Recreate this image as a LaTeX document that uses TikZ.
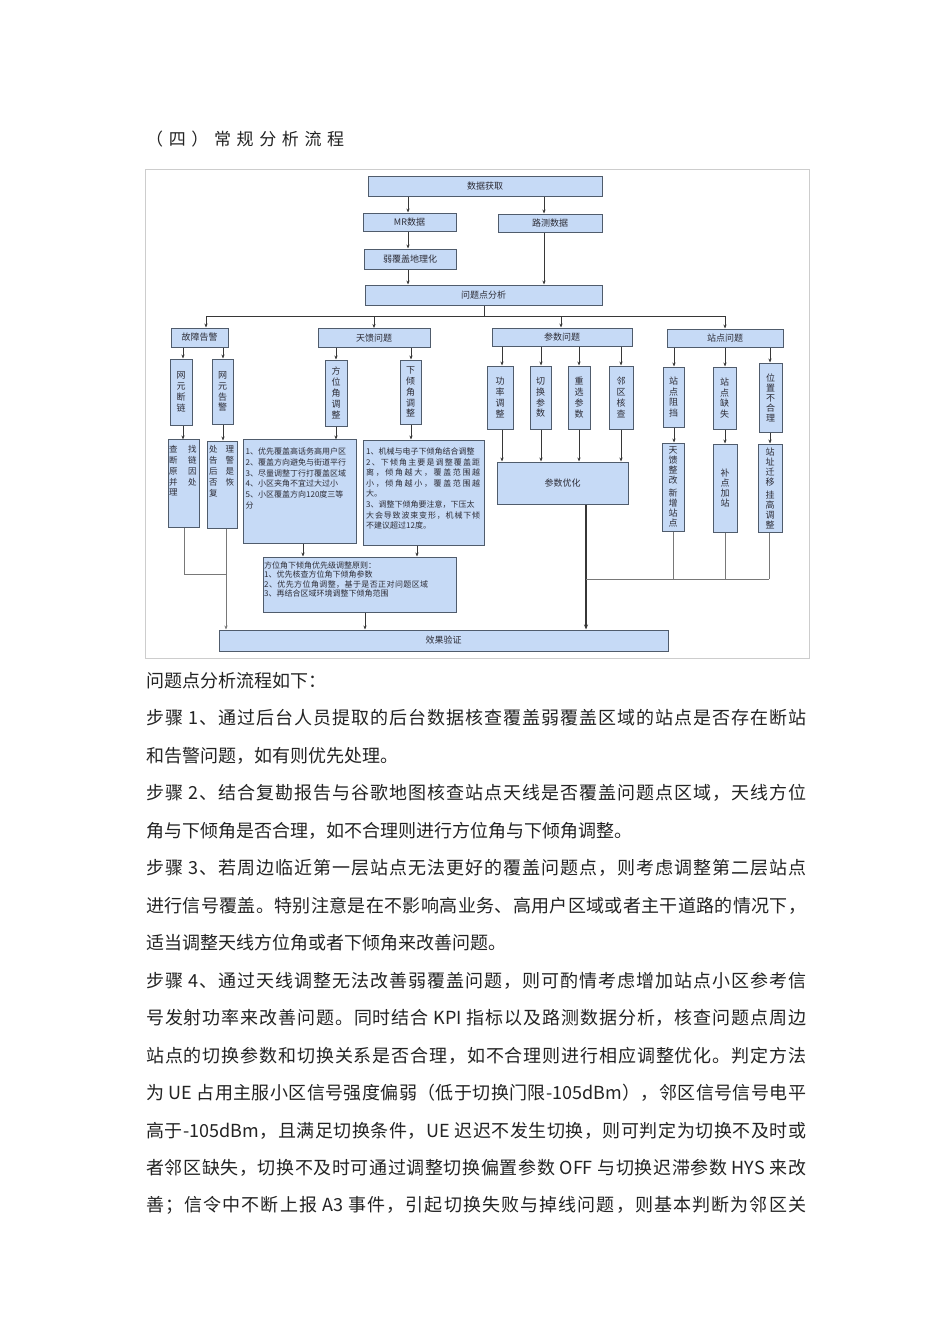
\documentclass[tikz,border=0pt]{standalone}
\usepackage{fontspec}
\setmainfont{Noto Sans CJK SC}
\usetikzlibrary{arrows.meta,shadows}
\definecolor{boxfill}{RGB}{198,218,246}
\definecolor{boxline}{RGB}{80,92,108}
\definecolor{conn}{RGB}{55,55,55}
\definecolor{conng}{RGB}{120,120,120}
\definecolor{framec}{RGB}{205,205,205}
\definecolor{txt}{RGB}{35,35,35}
\definecolor{boxtxt}{RGB}{45,45,55}
\def\jspread#1{\ifx\relax#1\else#1\hskip 0pt plus 1fil\relax\expandafter\jspread\fi}
\newcommand{\flin}[2]{\hbox to #1{\jspread#2\relax\unskip}}
\tikzset{
 bx/.style={draw=boxline, fill=boxfill, line width=1pt, inner sep=0pt, text=boxtxt,
   font=\fontsize{9}{10}\selectfont,
   drop shadow={shadow xshift=0.7pt, shadow yshift=-0.7pt, fill=black!45}},
 vt/.style={bx, align=center, font=\fontsize{9}{10.8}\selectfont},
 tx/.style={inner sep=0pt, anchor=north west, align=left, text=boxtxt, font=\fontsize{8}{10.7}\selectfont},
 arr/.style={draw=conn, line width=0.8pt, -{Stealth[length=4pt,width=3.2pt]}},
 arrg/.style={draw=conng, line width=0.8pt, -{Stealth[length=4pt,width=3.2pt]}},
 arrk/.style={draw=conn, line width=1.4pt, -{Stealth[length=5pt,width=4pt]}},
 ln/.style={draw=conn, line width=0.8pt},
 lng/.style={draw=conng, line width=0.8pt},
 body/.style={anchor=west, inner sep=0pt, text=txt, font=\fontsize{18}{18}\selectfont},
}
\begin{document}
\begin{tikzpicture}[x=1pt,y=-1pt]
\fill[white] (0,0) rectangle (950,1344);
\useasboundingbox (0,0) rectangle (950,1344);

% title
\node[anchor=west, inner sep=0pt, text=txt, font=\fontsize{17}{17}\selectfont] (title) at (146,139) {\flin{198pt}{（四）常规分析流程}};

% frame
\draw[framec, line width=1pt] (145,169) rectangle (809,658);

% top boxes
\node[bx, minimum width=234pt, minimum height=20pt] (sj) at (485,186) {数据获取};
\node[bx, minimum width=93pt, minimum height=18pt] (mr) at (409.5,222) {MR数据};
\node[bx, minimum width=104pt, minimum height=18pt] (lc) at (550,223) {路测数据};
\node[bx, minimum width=92pt, minimum height=20pt] (rf) at (410,259) {弱覆盖地理化};
\node[bx, minimum width=237pt, minimum height=20pt] (wt) at (483.5,295) {问题点分析};

% second level
\node[bx, minimum width=57pt, minimum height=19pt] (gz) at (199.5,337.5) {故障告警};
\node[bx, minimum width=112pt, minimum height=19pt] (tk) at (374,338) {天馈问题};
\node[bx, minimum width=140pt, minimum height=18pt] (cs) at (562,337) {参数问题};
\node[bx, minimum width=116pt, minimum height=18pt] (zd) at (725,338) {站点问题};

% fault branch
\node[vt, minimum width=22pt, minimum height=66pt] (wd) at (181,392) {网\\元\\断\\链};
\node[vt, minimum width=21pt, minimum height=65pt] (wg) at (222.5,391.5) {网\\元\\告\\警};
\node[bx, minimum width=31pt, minimum height=87.5pt] (cz) at (183.5,483.7) {};
\node[bx, minimum width=30pt, minimum height=87pt] (cl) at (222,484.5) {};
\node[tx, font=\fontsize{8.5}{10.8}\selectfont] (czt) at ([xshift=1.5pt,yshift=-6pt]cz.north west) {查\hspace{10.5pt}找\\断\hspace{10.5pt}链\\原\hspace{10.5pt}因\\并\hspace{10.5pt}处\\理};
\node[tx, font=\fontsize{8.5}{10.8}\selectfont] (clt) at ([xshift=2.3pt,yshift=-5pt]cl.north west) {处\hspace{8pt}理\\告\hspace{8pt}警\\后\hspace{8pt}是\\否\hspace{8pt}恢\\复};

% antenna branch
\node[vt, minimum width=22pt, minimum height=66pt] (fw) at (336,393) {方\\位\\角\\调\\整};
\node[vt, minimum width=21pt, minimum height=64pt] (xq) at (410.5,392) {下\\倾\\角\\调\\整};
\node[bx, minimum width=113pt, minimum height=103.5pt] (t1) at (299.5,491.7) {};
\node[bx, minimum width=121pt, minimum height=105pt] (t2) at (423.5,492.5) {};
\node[tx, font=\fontsize{8}{10.8}\selectfont] (t1x) at ([xshift=3pt,yshift=-8pt]t1.north west) {1、优先覆盖高话务高用户区\\2、覆盖方向避免与街道平行\\3、尽量调整丁行打覆盖区域\\4、小区夹角不宜过大过小\\5、小区覆盖方向120度三等\\分};
\node[tx, font=\fontsize{8}{10.6}\selectfont] (t2x) at ([xshift=3.5pt,yshift=-8pt]t2.north west) {1、机械与电子下倾角结合调整\\\flin{114pt}{2、下倾角主要是调整覆盖距}\\\flin{114pt}{离，倾角越大，覆盖范围越}\\\flin{114pt}{小，倾角越小，覆盖范围越}\\大。\\3、调整下倾角要注意，下压太\\\flin{114pt}{大会导致波束变形，机械下倾}\\不建议超过12度。};
\node[bx, minimum width=193pt, minimum height=55pt] (yx) at (359.5,584.5) {};
\node[tx, font=\fontsize{8}{9.5}\selectfont] (yxt) at ([xshift=1.5pt,yshift=-5pt]yx.north west) {方位角下倾角优先级调整原则：\\1、优先核查方位角下倾角参数\\\flin{164pt}{2、优先方位角调整，基于是否正对问题区域}\\3、再结合区域环境调整下倾角范围};

% parameter branch
\node[vt, minimum width=26pt, minimum height=63pt] (gl) at (500,397.5) {功\\率\\调\\整};
\node[vt, minimum width=21pt, minimum height=63pt] (qh) at (540.5,397.5) {切\\换\\参\\数};
\node[vt, minimum width=22pt, minimum height=63pt] (cx) at (579,397.5) {重\\选\\参\\数};
\node[vt, minimum width=24pt, minimum height=63pt] (lq) at (621,397.5) {邻\\区\\核\\查};
\node[bx, minimum width=131pt, minimum height=42pt] (yh) at (562.5,483) {参数优化};

% site branch
\node[vt, minimum width=21pt, minimum height=60pt] (zz) at (673.5,397) {站\\点\\阻\\挡};
\node[vt, minimum width=23pt, minimum height=62pt] (zq) at (724.5,398) {站\\点\\缺\\失};
\node[vt, minimum width=23pt, minimum height=69pt, font=\fontsize{9}{10}\selectfont] (wz) at (770.5,397.5) {位\\置\\不\\合\\理};
\node[vt, minimum width=22pt, minimum height=88pt, font=\fontsize{9}{10}\selectfont] (tz) at (673,487) {天\\馈\\整\\改\\[3pt]新\\增\\站\\点};
\node[vt, minimum width=24pt, minimum height=88pt, font=\fontsize{9}{10}\selectfont] (bd) at (725,488) {补\\点\\加\\站};
\node[vt, minimum width=24pt, minimum height=88pt, font=\fontsize{9}{10}\selectfont] (zy) at (770,488) {站\\址\\迁\\移\\[3pt]挂\\高\\调\\整};

% result
\node[bx, minimum width=449pt, minimum height=21pt] (xy) at (443.5,640.5) {效果验证};

% helper coordinates
\coordinate (xa) at (408,0);
\coordinate (xb) at (544,0);
\coordinate (xc) at (484,0);
\coordinate (h1) at (206,316);
\coordinate (h2) at (374,316);
\coordinate (h3) at (561,316);
\coordinate (h4) at (725,316);
\coordinate (xd) at (183,0);
\coordinate (xe) at (223,0);
\coordinate (j1) at (184,574);
\coordinate (j2) at (226,574);
\coordinate (xf) at (336,0);
\coordinate (xg) at (411,0);
\coordinate (xh) at (303,0);
\coordinate (xi) at (417,0);
\coordinate (xj) at (365,0);
\coordinate (p1) at (502,0);
\coordinate (p2) at (541,0);
\coordinate (p3) at (579,0);
\coordinate (p4) at (621,0);
\coordinate (k0) at (586,579);
\coordinate (s1) at (674,0);
\coordinate (s2) at (725,0);
\coordinate (s3) at (770,0);
\coordinate (k1) at (673,579);
\coordinate (k2) at (725,579);
\coordinate (k3) at (769,579);

% connectors
\draw[arr] (sj.south -| xa) -- (mr.north -| xa);
\draw[arr] (sj.south -| xb) -- (lc.north -| xb);
\draw[arr] (mr.south -| xa) -- (rf.north -| xa);
\draw[arr] (rf.south -| xa) -- (wt.north -| xa);
\draw[arr] (lc.south -| xb) -- (wt.north -| xb);
\draw[ln] (wt.south -| xc) -- (h1 -| xc);
\draw[ln] (h1) -- (h4);
\draw[arr] (h1) -- (gz.north -| h1);
\draw[arr] (h2) -- (tk.north -| h2);
\draw[arr] (h3) -- (cs.north -| h3);
\draw[arr] (h4) -- (zd.north -| h4);

\draw[arr] (gz.south -| xd) -- (wd.north -| xd);
\draw[arr] (gz.south -| xe) -- (wg.north -| xe);
\draw[arr] (wd.south -| xd) -- (cz.north -| xd);
\draw[arr] (wg.south -| xe) -- (cl.north -| xe);
\draw[lng] (cz.south -| j1) -- (j1) -- (j2);
\draw[arrg] (cl.south -| j2) -- (xy.north -| j2);

\draw[arr] (tk.south -| xf) -- (fw.north -| xf);
\draw[arr] (tk.south -| xg) -- (xq.north -| xg);
\draw[arr] (fw.south -| xf) -- (t1.north -| xf);
\draw[arr] (xq.south -| xg) -- (t2.north -| xg);
\draw[arr] (t1.south -| xh) -- (yx.north -| xh);
\draw[arr] (t2.south -| xi) -- (yx.north -| xi);
\draw[arr] (yx.south -| xj) -- (xy.north -| xj);

\foreach \n/\p in {gl/p1,qh/p2,cx/p3,lq/p4} {
  \draw[arr] (cs.south -| \p) -- (\n.north -| \p);
  \draw[arr] (\n.south -| \p) -- (yh.north -| \p);
}
\draw[arrk] (yh.south -| k0) -- (xy.north -| k0);

\draw[arr] (zd.south -| s1) -- (zz.north -| s1);
\draw[arr] (zd.south -| s2) -- (zq.north -| s2);
\draw[arr] (zd.south -| s3) -- (wz.north -| s3);
\draw[arr] (zz.south -| s1) -- (tz.north -| s1);
\draw[arr] (zq.south -| s2) -- (bd.north -| s2);
\draw[arr] (wz.south -| s3) -- (zy.north -| s3);
\draw[lng] (tz.south -| k1) -- (k1);
\draw[lng] (bd.south -| k2) -- (k2);
\draw[lng] (zy.south -| k3) -- (k3);
\draw[lng] (k0) -- (k3);

% body text
\node[body] (b1) at (146,680.5) {问题点分析流程如下：};
\node[body] (b2) at (146,718) {\flin{660pt}{步骤{ 1}、通过后台人员提取的后台数据核查覆盖弱覆盖区域的站点是否存在断站}};
\node[body] (b3) at (146,755.5) {和告警问题，如有则优先处理。};
\node[body] (b4) at (146,793) {\flin{660pt}{步骤{ 2}、结合复勘报告与谷歌地图核查站点天线是否覆盖问题点区域，天线方位}};
\node[body] (b5) at (146,830.5) {角与下倾角是否合理，如不合理则进行方位角与下倾角调整。};
\node[body] (b6) at (146,868) {\flin{660pt}{步骤{ 3}、若周边临近第一层站点无法更好的覆盖问题点，则考虑调整第二层站点}};
\node[body] (b7) at (146,905.5) {\flin{660pt}{进行信号覆盖。特别注意是在不影响高业务、高用户区域或者主干道路的情况下，}};
\node[body] (b8) at (146,943) {适当调整天线方位角或者下倾角来改善问题。};
\node[body] (b9) at (146,980.5) {\flin{660pt}{步骤{ 4}、通过天线调整无法改善弱覆盖问题，则可酌情考虑增加站点小区参考信}};
\node[body] (b10) at (146,1018) {\flin{660pt}{号发射功率来改善问题。同时结合{ KPI }指标以及路测数据分析，核查问题点周边}};
\node[body] (b11) at (146,1055.5) {\flin{660pt}{站点的切换参数和切换关系是否合理，如不合理则进行相应调整优化。判定方法}};
\node[body] (b12) at (146,1093) {\flin{660pt}{为{ UE }占用主服小区信号强度偏弱（低于切换门限{-105dBm}），邻区信号信号电平}};
\node[body] (b13) at (146,1130.5) {\flin{660pt}{高于{-105dBm}，且满足切换条件，{UE }迟迟不发生切换，则可判定为切换不及时或}};
\node[body] (b14) at (146,1168) {\flin{660pt}{者邻区缺失，切换不及时可通过调整切换偏置参数{ OFF }与切换迟滞参数{ HYS }来改}};
\node[body] (b15) at (146,1205.5) {\flin{660pt}{善；信令中不断上报{ A3 }事件，引起切换失败与掉线问题，则基本判断为邻区关}};
\end{tikzpicture}
\end{document}
